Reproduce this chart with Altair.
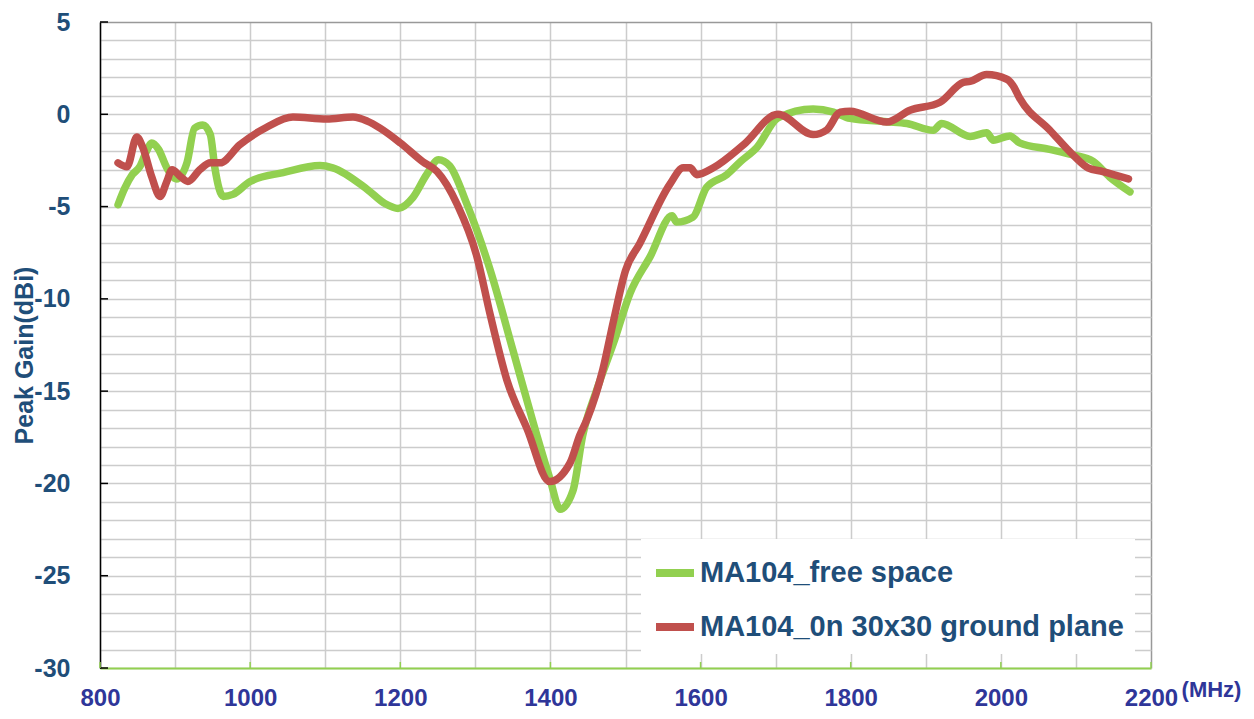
import altair as alt
import pandas as pd

# ---- data ----
series_names = ["MA104_free space", "MA104_0n 30x30 ground plane"]
series_colors = ["#92D050", "#C0504D"]

freq_free = [824, 833, 843, 853, 862, 869, 878, 889, 902, 916, 926, 937, 947, 953, 964, 977,
             1000, 1044, 1093, 1110, 1156, 1180, 1197, 1217, 1235, 1251, 1266, 1289, 1320, 1350,
             1377, 1399, 1413, 1430, 1443, 1462, 1484, 1506, 1533, 1562, 1568, 1590, 1608, 1635,
             1653, 1675, 1703, 1750, 1777, 1799, 1848, 1875, 1910, 1921, 1959, 1981, 1990, 2012,
             2025, 2065, 2096, 2123, 2145, 2172]
gain_free = [-4.9, -4.0, -3.27, -2.84, -2.0, -1.55, -1.9, -2.9, -3.5, -2.6, -0.75, -0.58, -1.1, -2.9,
             -4.45, -4.34, -3.64, -3.16, -2.78, -2.9, -4.07, -4.85, -5.1, -4.5, -3.27, -2.46, -2.8,
             -4.9, -8.47, -12.77, -16.7, -19.7, -21.4, -20.4, -17.4, -14.9, -12.4, -9.7, -7.7, -5.5,
             -5.84, -5.57, -3.96, -3.27, -2.57, -1.8, -0.2, 0.28, 0.12, -0.22, -0.4, -0.5, -0.87,
             -0.5, -1.2, -1.0, -1.4, -1.17, -1.55, -1.9, -2.2, -2.55, -3.4, -4.2]

freq_gp = [824, 836, 849, 857, 869, 880, 889, 896, 907, 917, 933, 947, 960, 986, 1022, 1057, 1102,
           1137, 1156, 1173, 1200, 1230, 1249, 1276, 1302, 1320, 1342, 1369, 1399, 1426, 1439, 1449,
           1470, 1484, 1500, 1519, 1559, 1577, 1586, 1595, 1617, 1657, 1703, 1750, 1768, 1786, 1799,
           1848, 1879, 1919, 1950, 1959, 1981, 2008, 2016, 2025, 2065, 2096, 2116, 2136, 2170]
gain_gp = [-2.63, -2.84, -1.23, -1.8, -3.4, -4.45, -3.64, -3.0, -3.37, -3.64, -3.0, -2.63, -2.63,
           -1.66, -0.7, -0.15, -0.26, -0.15, -0.37, -0.75, -1.55, -2.57, -3.1, -4.9, -7.7, -10.9,
           -14.4, -17.05, -19.9, -18.9, -17.4, -16.5, -13.8, -11.2, -8.47, -7.0, -3.8, -2.9, -2.9,
           -3.27, -2.9, -1.66, 0.0, -1.1, -0.85, 0.12, 0.17, -0.42, 0.22, 0.65, 1.73, 1.78, 2.15,
           1.9, 1.57, 0.87, -0.85, -2.2, -2.9, -3.1, -3.5]

x_grid = list(range(800, 2201, 100))
y_grid = list(range(-30, 6))
x_ticks = list(range(800, 2201, 200))
y_ticks = list(range(-30, 6, 5))

df = pd.concat([
    pd.DataFrame({"freq": freq_free, "gain": gain_free, "series": series_names[0]}),
    pd.DataFrame({"freq": freq_gp, "gain": gain_gp, "series": series_names[1]}),
])

FONT = "Liberation Sans"
x_scale = alt.Scale(domain=[800, 2200], nice=False, zero=False)
y_scale = alt.Scale(domain=[-30, 5], nice=False, zero=False)

x_axis = alt.Axis(
    values=x_grid,
    labelExpr="datum.value % 200 === 0 ? '' + datum.value : ''",
    grid=True,
    gridColor=alt.condition("datum.value === 2200", alt.value("#999999"), alt.value("#cccccc")),
    gridWidth=1.5,
    ticks=False, tickSize=0,
    domainColor="#92D050", domainWidth=2,
    labelFont=FONT, labelFontSize=24, labelFontWeight="bold", labelColor="#2F3699",
    labelPadding=18, labelOverlap=False, labelFlush=False,
    title="(MHz)", titleFont=FONT, titleFontSize=22, titleFontWeight="bold", titleColor="#2F3699",
    titleX=1111, titleY=21, titleAngle=0, titleAlign="center", titleBaseline="middle",
)
y_axis = alt.Axis(
    values=y_grid,
    labelExpr="datum.value % 5 === 0 ? '' + datum.value : ''",
    grid=True,
    gridColor=alt.condition("datum.value === 5", alt.value("#999999"), alt.value("#cccccc")),
    gridWidth=1.5,
    ticks=False, tickSize=0,
    domainColor="#000000", domainWidth=1.5,
    labelFont=FONT, labelFontSize=25, labelFontWeight="bold", labelColor="#1F4E79",
    labelPadding=30, labelOverlap=False, labelFlush=False,
    title="Peak Gain(dBi)", titleFont=FONT, titleFontSize=25, titleFontWeight="bold",
    titleColor="#1F4E79", titleX=-76, titleY=333, titleAngle=270, titleAlign="center",
    titleBaseline="middle",
)

X = lambda f: alt.X(f, scale=x_scale, axis=x_axis)
Y = lambda f: alt.Y(f, scale=y_scale, axis=y_axis)

lines = alt.Chart(df).mark_line(
    strokeWidth=7.5, interpolate="monotone", strokeCap="round", strokeJoin="round"
).encode(
    x=X("freq:Q"),
    y=Y("gain:Q"),
    color=alt.Color(
        "series:N",
        scale=alt.Scale(domain=series_names, range=series_colors),
        sort=series_names,
        legend=alt.Legend(
            orient="none", legendX=541, legendY=517, title=None,
            symbolType="stroke", symbolStrokeWidth=8, symbolSize=1444,
            labelFont=FONT, labelFontSize=29, labelFontWeight="bold", labelColor="#1F4E79",
            labelLimit=800, labelOffset=2, fillColor="white", padding=11, rowPadding=15,
        ),
    ),
)

y_tick_marks = alt.Chart(pd.DataFrame({"gain": y_ticks})).mark_rule(
    color="black", strokeWidth=1.5
).encode(y=Y("gain:Q"), x=alt.value(0), x2=alt.value(8))

x_tick_marks = alt.Chart(pd.DataFrame({"freq": x_ticks})).mark_rule(
    color="#92D050", strokeWidth=1.5
).encode(x=X("freq:Q"), y=alt.value(646), y2=alt.value(640))

chart = alt.layer(lines, y_tick_marks, x_tick_marks).properties(
    width=1051, height=646,
    autosize=alt.AutoSizeParams(type="none"),
    padding={"left": 92, "top": 14, "right": 95, "bottom": 46},
).configure_view(stroke=None)

chart.save("out.html", embed_options={"renderer": "svg", "actions": False})
